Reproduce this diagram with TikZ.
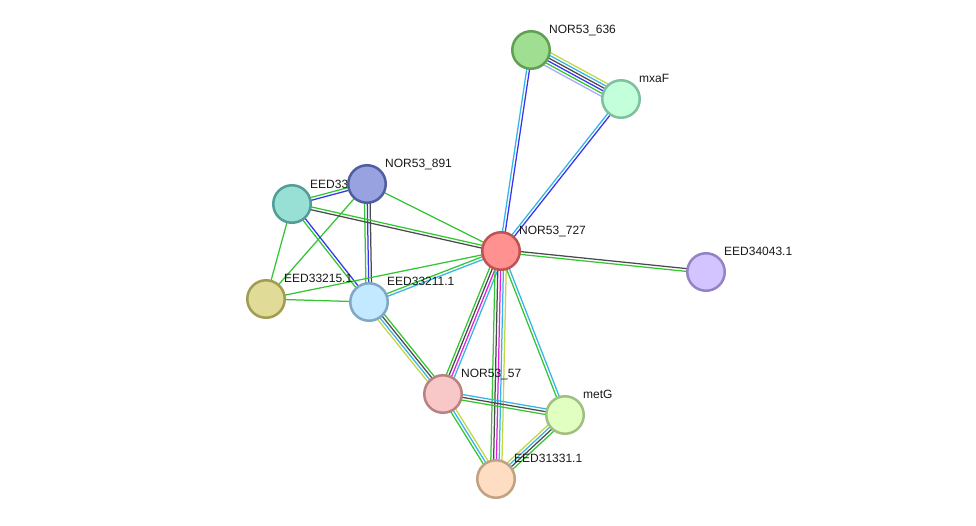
\documentclass[tikz,border=0pt]{standalone}
\usepackage{fontspec}
\setmainfont{Liberation Sans}
\usetikzlibrary{calc,backgrounds}
\definecolor{eg}{HTML}{33C633}
\definecolor{eb}{HTML}{3333F0}
\definecolor{ek}{HTML}{4A4A4A}
\definecolor{em}{HTML}{E020E0}
\definecolor{ec}{HTML}{33B5E5}
\definecolor{ey}{HTML}{C3D645}
\definecolor{ev}{HTML}{A8A8FF}
\definecolor{f636}{HTML}{A0DF92}\definecolor{d636}{HTML}{60A052}
\definecolor{fmxa}{HTML}{C2FFDA}\definecolor{dmxa}{HTML}{80C09F}
\definecolor{f212}{HTML}{98DFD6}\definecolor{d212}{HTML}{509E97}
\definecolor{f891}{HTML}{99A2E1}\definecolor{d891}{HTML}{4F5E9F}
\definecolor{f727}{HTML}{FF9191}\definecolor{d727}{HTML}{C05252}
\definecolor{f043}{HTML}{D3C3FF}\definecolor{d043}{HTML}{9383C4}
\definecolor{f215}{HTML}{E0DC98}\definecolor{d215}{HTML}{A19C52}
\definecolor{f211}{HTML}{C2E9FF}\definecolor{d211}{HTML}{7FA7C6}
\definecolor{f57}{HTML}{F8C8C8}\definecolor{d57}{HTML}{B88282}
\definecolor{fmet}{HTML}{E2FFC2}\definecolor{dmet}{HTML}{A1BF82}
\definecolor{f331}{HTML}{FFDDC2}\definecolor{d331}{HTML}{C0A282}
\tikzset{
  prot/.style={circle, minimum size=37.5pt, inner sep=0pt, line width=2.5pt},
  lab/.style={anchor=base west, font=\fontsize{12}{14}\selectfont, text=black!90, inner sep=0pt},
  evl/.style={line width=1.25pt},
}
\newcommand{\medge}[4]{%
  \foreach \col [count=\i] in {#4} {
    \pgfmathsetmacro\off{(\i-1-(#3-1)/2)*2.8}
    \draw[evl,\col] ($(#1.center)!\off pt!90:(#2.center)$) -- ($(#2.center)!\off pt!-90:(#1.center)$);
  }
}
\begin{document}
\begin{tikzpicture}[x=1pt,y=-1pt]
\useasboundingbox (0,0) rectangle (976,525);
% nodes
\node[prot, fill=f636, draw=d636] (n636) at (531,50) {};
\node[prot, fill=fmxa, draw=dmxa] (mxaF) at (621,99) {};
\node[prot, fill=f212, draw=d212] (e212) at (292,204) {};
\node[lab] (l212) at (310,188) {EED33212.1};
\node[prot, fill=f891, draw=d891] (n891) at (367,184) {};
\node[prot, fill=f727, draw=d727] (n727) at (501,251) {};
\node[prot, fill=f043, draw=d043] (e043) at (706,272) {};
\node[prot, fill=f215, draw=d215] (e215) at (266,299) {};
\node[prot, fill=f211, draw=d211] (e211) at (369,302) {};
\node[prot, fill=f57, draw=d57] (n57) at (443,394) {};
\node[prot, fill=fmet, draw=dmet] (metG) at (565,415) {};
\node[prot, fill=f331, draw=d331] (e331) at (496,479) {};
% labels
\node[lab] (l636) at (549,33) {NOR53\_636};
\node[lab] (lmxaF) at (639,82) {mxaF};
\node[lab] (l891) at (385,167) {NOR53\_891};
\node[lab] (l727) at (519,234) {NOR53\_727};
\node[lab] (l043) at (724,255) {EED34043.1};
\node[lab] (l215) at (284,282) {EED33215.1};
\node[lab] (l211) at (387,285) {EED33211.1};
\node[lab] (l57) at (461,377) {NOR53\_57};
\node[lab] (lmetG) at (583,398) {metG};
\node[lab] (l331) at (514,462) {EED31331.1};
% edges
\begin{scope}[on background layer]
\fill[white] (0,0) rectangle (976,525);
\medge{n636}{mxaF}{6}{ev,eg,eb,ek,ec,ey}
\medge{n636}{n727}{2}{ec,eb}
\medge{mxaF}{n727}{2}{ec,eb}
\medge{n891}{e212}{2}{eg,eb}
\medge{n891}{n727}{1}{eg}
\medge{n891}{e211}{3}{eg,eb,ek}
\medge{n891}{e215}{1}{eg}
\medge{e212}{n727}{2}{ek,eg}
\medge{e212}{e211}{2}{eg,eb}
\medge{e212}{e215}{1}{eg}
\medge{e215}{n727}{1}{eg}
\medge{e215}{e211}{1}{eg}
\medge{e211}{n727}{2}{ec,eg}
\medge{e211}{n57}{4}{ey,ec,ek,eg}
\medge{n727}{e043}{2}{eg,ek}
\medge{n727}{n57}{4}{eg,ek,em,ec}
\medge{n727}{e331}{5}{eg,ek,em,ec,ey}
\medge{n727}{metG}{2}{eg,ec}
\medge{n57}{metG}{3}{eg,ek,ec}
\medge{n57}{e331}{3}{eg,ec,ey}
\medge{metG}{e331}{4}{ey,ec,ek,eg}
\end{scope}
\end{tikzpicture}
\end{document}
